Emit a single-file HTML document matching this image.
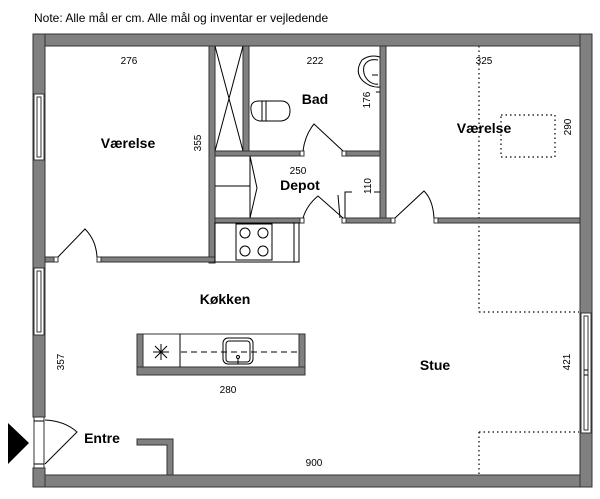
<!DOCTYPE html>
<html><head><meta charset="utf-8"><style>
html,body{margin:0;padding:0;background:#fff;}
svg{display:block;}
text{font-family:"Liberation Sans",sans-serif;fill:#000;}
.w{fill:#808080;stroke:#333;stroke-width:1;}
.l{fill:none;stroke:#000;stroke-width:1;}
.d{fill:none;stroke:#000;stroke-width:1.2;stroke-dasharray:1.5,3;}
.j{fill:#fff;stroke:#333;stroke-width:1;}
.b{font-weight:bold;font-size:14px;}
.s{font-size:10px;}
</style></head><body>
<svg width="600" height="499" viewBox="0 0 600 499" xmlns="http://www.w3.org/2000/svg">
<text x="34" y="22" font-size="12">Note: Alle mål er cm. Alle mål og inventar er vejledende</text>

<!-- dotted furniture -->
<line class="d" x1="479" y1="46" x2="479" y2="312"/>
<line class="d" x1="479" y1="432" x2="479" y2="475"/>
<line class="d" x1="479" y1="312" x2="579" y2="312"/>
<line class="d" x1="479" y1="432" x2="579" y2="432"/>
<rect class="d" x="501" y="115" width="54" height="42"/>

<!-- outer walls -->
<rect class="w" x="33" y="34" width="559" height="12"/>
<rect class="w" x="33" y="475" width="559" height="12"/>
<rect class="w" x="33" y="34" width="12" height="383"/>
<rect class="w" x="33" y="468" width="12" height="19"/>
<rect class="w" x="580" y="34" width="12" height="453"/>

<!-- left windows -->
<rect x="34" y="94" width="10" height="66" fill="#fff" stroke="#333"/>
<rect x="37" y="97" width="4" height="60" fill="#fff" stroke="#333"/>
<rect x="34" y="268" width="10" height="67" fill="#fff" stroke="#333"/>
<rect x="37" y="271" width="4" height="61" fill="#fff" stroke="#333"/>
<!-- right window -->
<rect x="581" y="313" width="10" height="120" fill="#fff" stroke="#333"/>
<rect x="584" y="316" width="4" height="114" fill="#fff" stroke="#333"/>
<line class="l" x1="584" y1="370" x2="588" y2="370"/><line class="l" x1="584" y1="375" x2="588" y2="375"/>

<!-- entry door -->
<rect x="34" y="417" width="10" height="51" fill="#fff" stroke="#333"/>
<line class="l" x1="34" y1="421" x2="44" y2="421"/><line class="l" x1="34" y1="464" x2="44" y2="464"/>
<path class="l" d="M45 420 Q65 421 77 432 L45 464"/>
<polygon points="8,423 29,443 8,464" fill="#000"/>

<!-- bedroom left walls -->
<rect class="w" x="209" y="46" width="6" height="217"/>
<rect class="w" x="45" y="257" width="9" height="5"/>
<rect class="j" x="54" y="257" width="4" height="5"/>
<rect class="j" x="97" y="257" width="4" height="5"/>
<rect class="w" x="101" y="257" width="114" height="5"/>
<path class="l" d="M58 257 L85 229 Q96 240 97 257"/>

<!-- shower -->
<rect class="w" x="243" y="46" width="6" height="105"/>
<path class="l" d="M215 46 L243 151 M243 46 L215 151"/>

<!-- bath/depot walls -->
<rect class="w" x="215" y="151" width="85" height="5"/>
<rect class="j" x="300" y="151" width="4" height="5"/>
<rect class="j" x="342" y="151" width="4" height="5"/>
<rect class="w" x="346" y="151" width="35" height="5"/>
<path class="l" d="M343 151 L314 124 Q305 135 303 151"/>
<rect class="w" x="380" y="46" width="6" height="177"/>

<rect class="w" x="215" y="218" width="85" height="5"/>
<rect class="j" x="300" y="218" width="4" height="5"/>
<rect class="j" x="342" y="218" width="4" height="5"/>
<rect class="w" x="346" y="218" width="45" height="5"/>
<rect class="j" x="391" y="218" width="4" height="5"/>
<rect class="j" x="434" y="218" width="4" height="5"/>
<rect class="w" x="438" y="218" width="142" height="5"/>
<path class="l" d="M343 218 L318 196 Q307 205 303 218"/>
<path class="l" d="M340 218 L338 195"/>
<path class="l" d="M345 218 L345 192 L352 192 M374 192 L380 192"/>
<path class="l" d="M395 218 L424 191 Q433 200 434 218"/>

<!-- depot shelves -->
<path class="l" d="M215 186 L250 186 M250 156 L250 218 M250 156 L257 188 L250 218"/>

<!-- toilet -->
<path class="l" d="M259 101 Q250 101 251 110 Q252 120 260 121 L281 121 Q290 120 290 111 Q290 101 281 101 Z M262 101 L262 121 M266 101 L266 121"/>
<!-- sink -->
<path class="l" d="M380 57 Q370 54 362 60 Q354 72 363 81 Q371 88 380 87"/>
<path class="l" d="M378 60 Q368 58 364 66 Q362 76 370 82 Q375 85 378 84"/>
<line class="l" x1="372" y1="75" x2="378" y2="75"/>
<line class="l" x1="376" y1="92" x2="380" y2="92"/>

<!-- kitchen counter -->
<rect class="l" x="215" y="223" width="84" height="39" fill="#fff"/>
<rect class="l" x="236" y="224" width="36" height="36"/>
<circle class="l" cx="245" cy="233" r="5"/><circle class="l" cx="263" cy="233" r="5"/>
<circle class="l" cx="245" cy="251" r="5"/><circle class="l" cx="263" cy="251" r="5"/>
<line class="l" x1="294" y1="223" x2="294" y2="262"/>

<!-- island -->
<rect x="137" y="334" width="168" height="41" fill="#fff" stroke="#333"/>
<rect class="w" x="137" y="334" width="6" height="41"/>
<rect class="w" x="299" y="334" width="6" height="41"/>
<rect class="w" x="137" y="367" width="168" height="8"/>
<line class="l" x1="180" y1="334" x2="180" y2="367"/>
<line x1="181" y1="352" x2="299" y2="352" stroke="#555" stroke-width="1.5" stroke-dasharray="6,4"/>
<rect class="l" x="223" y="338" width="30" height="26" rx="5"/>
<rect class="l" x="226" y="341" width="24" height="21" rx="3"/>
<circle class="l" cx="238" cy="357" r="1.5"/><line class="l" x1="238" y1="358" x2="238" y2="364"/>
<path class="l" d="M161 344 L161 360 M153 352 L169 352 M155 346 L167 358 M167 346 L155 358"/>

<!-- entre stub -->
<path class="w" d="M137 439 L173 439 L173 475 L167 475 L167 445 L137 445 Z"/>

<!-- labels -->
<text class="b" x="128" y="148" text-anchor="middle">Værelse</text>
<text class="b" x="315" y="104" text-anchor="middle">Bad</text>
<text class="b" x="300" y="190" text-anchor="middle">Depot</text>
<text class="b" x="484" y="133" text-anchor="middle">Værelse</text>
<text class="b" x="225" y="304" text-anchor="middle">Køkken</text>
<text class="b" x="435" y="370" text-anchor="middle">Stue</text>
<text class="b" x="102" y="443" text-anchor="middle">Entre</text>

<text class="s" x="129" y="64" text-anchor="middle">276</text>
<text class="s" x="315" y="64" text-anchor="middle">222</text>
<text class="s" x="484" y="64" text-anchor="middle">325</text>
<text class="s" x="298" y="174" text-anchor="middle">250</text>
<text class="s" x="228" y="393" text-anchor="middle">280</text>
<text class="s" x="314" y="466" text-anchor="middle">900</text>
<text class="s" transform="translate(201,143) rotate(-90)" text-anchor="middle">355</text>
<text class="s" transform="translate(370,100) rotate(-90)" text-anchor="middle">176</text>
<text class="s" transform="translate(371,186) rotate(-90)" text-anchor="middle">110</text>
<text class="s" transform="translate(571,127) rotate(-90)" text-anchor="middle">290</text>
<text class="s" transform="translate(64,362) rotate(-90)" text-anchor="middle">357</text>
<text class="s" transform="translate(570,362) rotate(-90)" text-anchor="middle">421</text>
</svg>
</body></html>
